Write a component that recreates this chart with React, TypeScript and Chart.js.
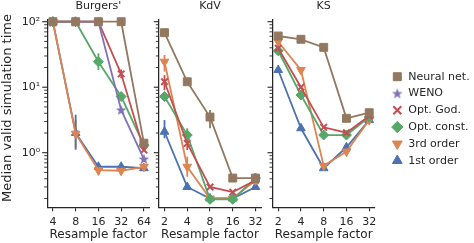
import React, { useEffect, useRef } from 'react';
import { Chart, registerables } from 'chart.js';

Chart.register(...registerables);

const W = 474;
const H = 243;
const FONT = '"DejaVu Sans", sans-serif';
const TEXT = '#262626';
const AXIS = '#262626';

// ---------- data ----------
const seriesNames = ['Neural net.', 'WENO', 'Opt. God.', 'Opt. const.', '3rd order', '1st order'];
const panelTitles = ["Burgers'", 'KdV', 'KS'];
const axisTitleX = 'Resample factor';
const axisTitleY = 'Median valid simulation time';

const burgersFactors = ['4', '8', '16', '32', '64'];
const kdvFactors = ['2', '4', '8', '16', '32'];
const ksFactors = ['2', '4', '8', '16', '32'];

// Burgers'
const burgersNeural = [100, 100, 100, 100, 1.4];
const burgersWeno = [100, 100, 100, 4.5, 0.8];
const burgersGod = [100, 100, 100, 16, 1.1];
const burgersConst = [100, 100, 24.5, 7.2, 1.3];
const burgers3rd = [100, 1.95, 0.54, 0.53, 0.61];
const burgers1st = [100, 2.0, 0.61, 0.61, 0.58];
// error bars [low, high]
const burgersWenoErr = [null, null, null, [4.0, 5.0], null];
const burgersGodErr = [null, null, null, [13.7, 18.7], null];
const burgersConstErr = [null, null, [18.3, 33], null, null];
const burgers3rdErr = [null, [1.1, 3.2], [0.45, 0.6], null, null];
const burgers1stErr = [null, [1.15, 3.8], null, null, null];

// KdV
const kdvNeural = [68, 12.1, 3.5, 0.41, 0.41];
const kdvGod = [12.1, 1.39, 0.3, 0.25, 0.38];
const kdvConst = [7.2, 1.86, 0.194, 0.194, 0.41];
const kdv3rd = [24.5, 0.61, 0.2, 0.2, 0.38];
const kdv1st = [2.09, 0.3, 0.2, 0.2, 0.3];
const kdvNeuralErr = [null, null, [2.36, 4.5], null, null];
const kdvGodErr = [[9.0, 15.3], [1.1, 1.56], null, null, null];
const kdvConstErr = [null, [1.56, 2.36], null, null, null];
const kdv3rdErr = [[17.3, 31], [0.43, 0.87], null, null, null];
const kdv1stErr = [[1.66, 3.15], null, null, null, null];

// KS
const ksNeural = [60.5, 53.9, 40.6, 3.35, 4.08];
const ksGod = [39.3, 10.0, 2.44, 2.02, 3.63];
const ksConst = [36, 7.6, 1.86, 1.86, 3.5];
const ks3rd = [49.5, 18.3, 0.63, 1.04, 3.16];
const ks1st = [18.3, 2.36, 0.58, 1.21, 3.16];

const yMin = 0.1467;
const yMax = 106.2;

// ---------- styles ----------
const seriesColors = ['#937860', '#8172B3', '#C44E52', '#55A868', '#DD8452', '#4C72B0'];

function makeStar(color: string): HTMLCanvasElement {
  const c = document.createElement('canvas');
  c.width = 12;
  c.height = 12;
  const g = c.getContext('2d')!;
  g.fillStyle = color;
  g.beginPath();
  const cx = 6, cy = 6.4, ro = 5.6, ri = 2.3;
  for (let k = 0; k < 10; k++) {
    const r = k % 2 === 0 ? ro : ri;
    const a = -Math.PI / 2 + (k * Math.PI) / 5;
    const px = cx + r * Math.cos(a);
    const py = cy + r * Math.sin(a);
    if (k === 0) g.moveTo(px, py);
    else g.lineTo(px, py);
  }
  g.closePath();
  g.fill();
  return c;
}

function seriesStyle(i: number, star: HTMLCanvasElement) {
  const color = seriesColors[i];
  const base: any = {
    borderColor: color,
    backgroundColor: color,
    pointBackgroundColor: color,
    pointBorderColor: color,
    pointBorderWidth: 1,
    borderWidth: 1.8,
  };
  switch (i) {
    case 0: return { ...base, pointStyle: 'rect', pointRadius: 5.6 };
    case 1: return { ...base, pointStyle: star, pointRadius: 5 };
    case 2: return { ...base, pointStyle: 'crossRot', pointRadius: 4.6, pointBorderWidth: 2 };
    case 3: return { ...base, pointStyle: 'rectRot', pointRadius: 5 };
    case 4: return { ...base, pointStyle: 'triangle', pointRotation: 180, pointRadius: 5 };
    default: return { ...base, pointStyle: 'triangle', pointRadius: 5 };
  }
}

const supers: Record<string, string> = { '-1': '⁻¹', '0': '⁰', '1': '¹', '2': '²' };

const decorPlugin = {
  id: 'decor',
  beforeDatasetsDraw(chart: any) {
    const ctx = chart.ctx;
    const xs = chart.scales.x;
    const ys = chart.scales.y;
    chart.data.datasets.forEach((ds: any) => {
      if (!ds.errBars) return;
      ctx.save();
      ctx.strokeStyle = ds.borderColor;
      ctx.lineWidth = 1.8;
      ds.errBars.forEach((e: any, i: number) => {
        if (!e) return;
        const px = xs.getPixelForValue(i);
        ctx.beginPath();
        ctx.moveTo(px, ys.getPixelForValue(e[0]));
        ctx.lineTo(px, ys.getPixelForValue(e[1]));
        ctx.stroke();
      });
      ctx.restore();
    });
  },
  afterDraw(chart: any) {
    const ctx = chart.ctx;
    const ys = chart.scales.y;
    const area = chart.chartArea;
    ctx.save();
    ctx.strokeStyle = AXIS;
    ys.ticks.forEach((t: any) => {
      const py = ys.getPixelForValue(t.value);
      ctx.lineWidth = t.major ? 1.1 : 0.9;
      const len = t.major ? 5 : 3;
      ctx.beginPath();
      ctx.moveTo(area.left, py);
      ctx.lineTo(area.left - len, py);
      ctx.stroke();
    });
    const opt = chart.options.plugins.decor || {};
    if (opt.yTitle) {
      ctx.fillStyle = TEXT;
      ctx.font = `13px ${FONT}`;
      ctx.textAlign = 'center';
      ctx.textBaseline = 'alphabetic';
      ctx.translate(opt.yTitleX, opt.yTitleY);
      ctx.rotate(-Math.PI / 2);
      ctx.fillText(opt.yTitle, 0, 0);
    }
    ctx.restore();
  },
};

type Panel = {
  title: string;
  factors: string[];
  values: (number[] | null)[];
  errs: (any[] | null)[];
  areaLeft: number;
  areaRight: number;
  yWidth: number;
  showY: boolean;
};

const panels: Panel[] = [
  {
    title: panelTitles[0],
    factors: burgersFactors,
    values: [burgersNeural, burgersWeno, burgersGod, burgersConst, burgers3rd, burgers1st],
    errs: [null, burgersWenoErr, burgersGodErr, burgersConstErr, burgers3rdErr, burgers1stErr],
    areaLeft: 47.2,
    areaRight: 149.6,
    yWidth: 47.2,
    showY: true,
  },
  {
    title: panelTitles[1],
    factors: kdvFactors,
    values: [kdvNeural, null, kdvGod, kdvConst, kdv3rd, kdv1st],
    errs: [kdvNeuralErr, null, kdvGodErr, kdvConstErr, kdv3rdErr, kdv1stErr],
    areaLeft: 158.8,
    areaRight: 261.2,
    yWidth: 6,
    showY: false,
  },
  {
    title: panelTitles[2],
    factors: ksFactors,
    values: [ksNeural, null, ksGod, ksConst, ks3rd, ks1st],
    errs: [null, null, null, null, null, null],
    areaLeft: 272.5,
    areaRight: 374.9,
    yWidth: 6,
    showY: false,
  },
];

function buildPanelConfig(p: Panel, star: HTMLCanvasElement): any {
  const datasets: any[] = [];
  p.values.forEach((vals, i) => {
    if (!vals) return;
    datasets.push({
      label: seriesNames[i],
      data: vals.map((v, k) => ({ x: k, y: v })),
      errBars: p.errs[i],
      clip: false,
      ...seriesStyle(i, star),
    });
  });
  return {
    type: 'line',
    data: { datasets },
    plugins: [decorPlugin],
    options: {
      responsive: false,
      animation: false,
      events: [],
      layout: { padding: { left: p.areaLeft - p.yWidth, right: W - p.areaRight, top: 0, bottom: 0 } },
      plugins: {
        legend: { display: false },
        tooltip: { enabled: false },
        title: {
          display: true,
          text: p.title,
          fullSize: false,
          color: TEXT,
          font: { family: FONT, size: 11, weight: 'normal', lineHeight: 1.2 },
          padding: { top: 0, bottom: 6.8 },
        },
        decor: p.showY ? { yTitle: axisTitleY, yTitleX: 11, yTitleY: 108 } : {},
      },
      scales: {
        x: {
          type: 'linear',
          min: -0.25,
          max: 4.25,
          bounds: 'data',
          afterBuildTicks: (s: any) => {
            s.ticks = p.factors.map((_, i) => ({ value: i }));
          },
          afterFit: (s: any) => {
            s.height = H - 207.3;
          },
          ticks: {
            callback: (v: any) => p.factors[v],
            color: TEXT,
            font: { family: FONT, size: 11 },
            padding: 4,
            maxRotation: 0,
            autoSkip: false,
          },
          grid: { display: true, drawOnChartArea: false, drawTicks: true, tickLength: 4, color: AXIS, lineWidth: 1.1 },
          border: { display: true, color: AXIS, width: 1.25 },
          title: {
            display: true,
            text: axisTitleX,
            color: TEXT,
            font: { family: FONT, size: 12, lineHeight: 1.2 },
            padding: { top: 0, bottom: 0.8 },
          },
        },
        y: {
          type: 'logarithmic',
          min: yMin,
          max: yMax,
          bounds: 'data',
          afterBuildTicks: (s: any) => {
            const t: any[] = [];
            for (let e = -1; e <= 2; e++) {
              for (let m = 1; m <= 9; m++) {
                const v = m * Math.pow(10, e);
                if (v >= yMin && v <= yMax) t.push({ value: v, major: m === 1 });
              }
            }
            s.ticks = t;
          },
          afterFit: (s: any) => {
            s.width = p.yWidth;
          },
          ticks: {
            display: p.showY,
            autoSkip: false,
            color: TEXT,
            font: { family: FONT, size: 11 },
            padding: 2,
            callback: (v: any) => {
              const e = Math.log10(v);
              const r = Math.round(e);
              if (Math.abs(e - r) < 1e-9) return '10' + (supers[String(r)] || '');
              return '';
            },
          },
          grid: { display: false, drawTicks: true, tickLength: 5 },
          border: { display: true, color: AXIS, width: 1.25 },
        },
      },
    },
  };
}

function buildLegendConfig(star: HTMLCanvasElement): any {
  return {
    type: 'line',
    data: {
      datasets: seriesNames.map((name, i) => ({
        label: name,
        data: [],
        ...seriesStyle(i, star),
        pointBorderWidth: i === 2 ? 2 : 1,
      })),
    },
    options: {
      responsive: false,
      animation: false,
      events: [],
      layout: { padding: { left: 386, top: 65.4, right: 0, bottom: 0 } },
      scales: { x: { display: false }, y: { display: false } },
      plugins: {
        tooltip: { enabled: false },
        title: { display: false },
        legend: {
          display: true,
          position: 'left',
          align: 'start',
          maxWidth: 88,
          labels: {
            usePointStyle: true,
            boxWidth: 11,
            boxHeight: 8,
            padding: 5.8,
            color: TEXT,
            font: { family: FONT, size: 11 },
          },
        },
      },
    },
  };
}

export default function App() {
  const refs = [useRef<HTMLCanvasElement>(null), useRef<HTMLCanvasElement>(null), useRef<HTMLCanvasElement>(null), useRef<HTMLCanvasElement>(null)];

  useEffect(() => {
    const star = makeStar(seriesColors[1]);
    const charts: Chart[] = [];
    panels.forEach((p, i) => {
      const c = refs[i].current;
      if (c) charts.push(new Chart(c, buildPanelConfig(p, star)));
    });
    const lc = refs[3].current;
    if (lc) charts.push(new Chart(lc, buildLegendConfig(star)));
    return () => charts.forEach((c) => c.destroy());
  }, []);

  const canvasStyle: React.CSSProperties = { position: 'absolute', left: 0, top: 0, width: W, height: H };
  return (
    <div style={{ position: 'fixed', left: 0, top: 0, width: W, height: H, background: '#fff', overflow: 'hidden' }}>
      {refs.map((r, i) => (
        <canvas key={i} ref={r} width={W} height={H} style={canvasStyle} />
      ))}
    </div>
  );
}
